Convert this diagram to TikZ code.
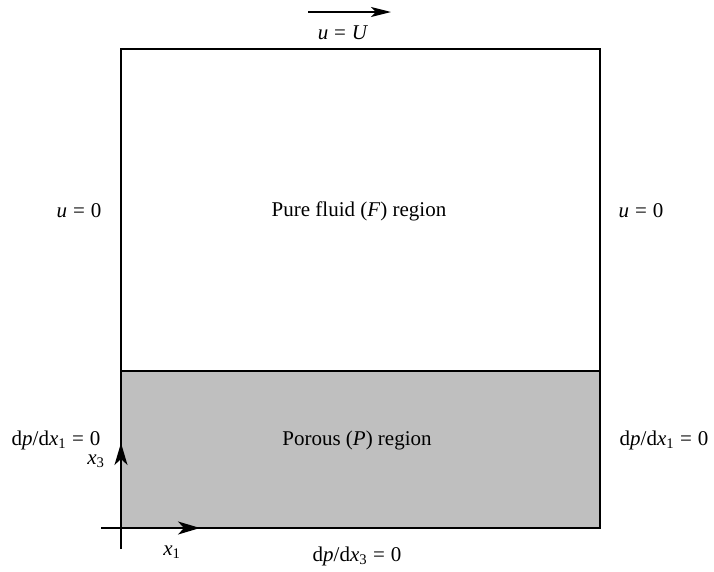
\documentclass[tikz,border=0pt]{standalone}
\usepackage{fontspec}
\setmainfont{Liberation Serif}
\usetikzlibrary{arrows.meta}
\newcommand{\vi}[1]{\textit{#1}}
\newcommand{\dd}{\textup{d}}
\newcommand{\eqs}{\hspace{0.28em}=\hspace{0.28em}}
\tikzset{
  lbl/.style={font=\fontsize{21}{24}\selectfont, inner sep=0pt},
  boxline/.style={line width=2.6pt},
  axis/.style={line width=1.5pt, -{Stealth[length=22pt,width=13pt,inset=6pt]}},
}
\begin{document}
\begin{tikzpicture}[x=1pt,y=-1pt]
\useasboundingbox (0,0) rectangle (714,571);
\fill[gray!50] (121,371) rectangle (600,528);
\draw[line width=1.1pt] (121,371) -- (600,371);
\draw[boxline] (121,49) rectangle (600,528);
% axes
\coordinate (o) at (121,528);
\coordinate (xs) at (101,528);
\coordinate (xe) at (200,528);
\coordinate (ys) at (121,549);
\coordinate (ye) at (121,443);
\draw[line width=1.5pt] (xs) -- (o);
\draw[axis] (o) -- (xe);
\draw[line width=1.5pt] (ys) -- (o);
\draw[axis] (o) -- (ye);
% top arrow
\coordinate (ts) at (308,12);
\coordinate (te) at (391,12);
\draw[line width=1.3pt, -{Stealth[length=20pt,width=10pt,inset=5pt]}] (ts) -- (te);
\node[lbl] (top) at (343,33) {\vi{u}\eqs\vi{U}};
\node[lbl] (lu) at (79,211) {\vi{u}\eqs0};
\node[lbl] (ru) at (641,211) {\vi{u}\eqs0};
\node[lbl] (fl) at (359,211) {Pure fluid (\vi{F}) region};
\node[lbl] (po) at (357,440) {Porous (\vi{P}) region};
\node[lbl] (lp) at (56,440) {\dd\vi{p}/\dd\vi{x}\textsubscript{1}\eqs0};
\node[lbl] (rp) at (664,440) {\dd\vi{p}/\dd\vi{x}\textsubscript{1}\eqs0};
\node[lbl] (bp) at (357,556) {\dd\vi{p}/\dd\vi{x}\textsubscript{3}\eqs0};
\node[lbl] (x3) at (96,461) {\vi{x}\textsubscript{3}};
\node[lbl] (x1) at (172,552) {\vi{x}\textsubscript{1}};
\end{tikzpicture}
\end{document}
